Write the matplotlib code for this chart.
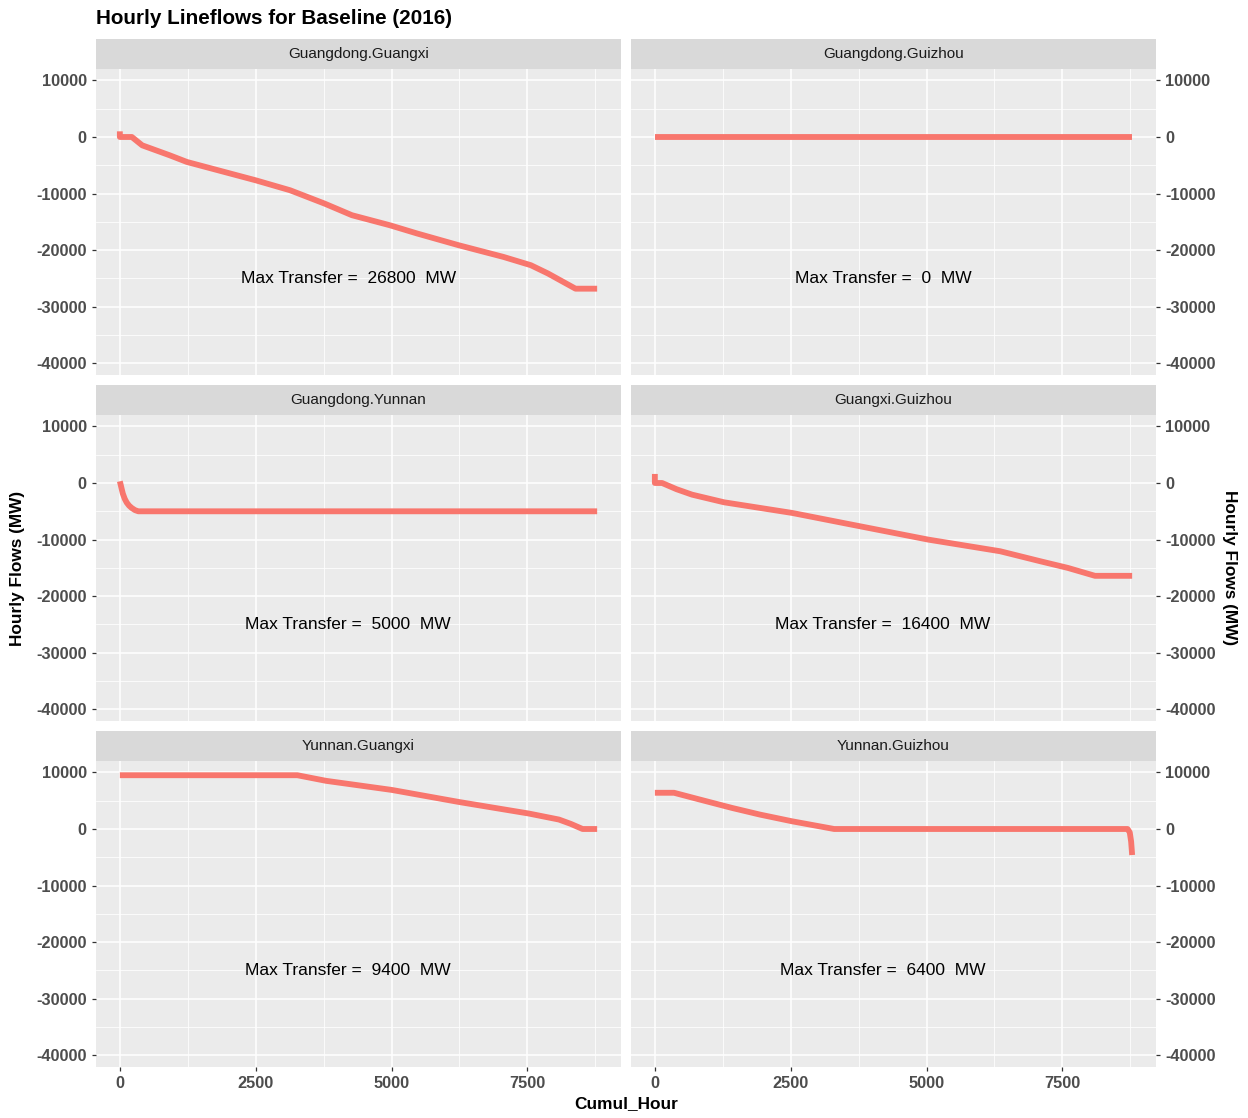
import matplotlib
matplotlib.use("Agg")
import matplotlib.pyplot as plt
from matplotlib.ticker import MultipleLocator

plt.rcParams['font.family'] = ['Liberation Sans', 'DejaVu Sans']
plt.rcParams['axes.unicode_minus'] = False

# ---------------- data ----------------
panels = ["Guangdong.Guangxi", "Guangdong.Guizhou", "Guangdong.Yunnan",
          "Guangxi.Guizhou", "Yunnan.Guangxi", "Yunnan.Guizhou"]
max_transfer = [26800, 0, 5000, 16400, 9400, 6400]

gd_gx_x = [0, 0, 221, 411, 918, 1234, 2500, 3133, 3766, 4272, 4968, 5475,
           6234, 7057, 7563, 7880, 8386, 8784]
gd_gx_y = [1000, 0, 0, -1470, -3235, -4410, -7650, -9410, -11760, -13820,
           -15590, -17060, -19120, -21180, -22650, -24120, -26800, -26800]

gd_gz_x = [0, 8784]
gd_gz_y = [0, 0]

gd_yn_x = [0, 30, 55, 90, 127, 170, 218, 280, 340, 8784]
gd_yn_y = [300, -900, -1880, -2800, -3470, -4000, -4410, -4800, -5000, -5000]

gx_gz_x = [0, 0, 133, 400, 685, 1274, 2526, 3778, 5030, 6355, 7091, 7600,
           8100, 8784]
gx_gz_y = [1600, 0, 0, -1100, -2060, -3410, -5290, -7650, -10000, -12060,
           -13820, -15000, -16400, -16400]

yn_gx_x = [0, 3267, 3795, 5006, 6248, 7522, 8081, 8300, 8516, 8784]
yn_gx_y = [9500, 9500, 8510, 6900, 4760, 2740, 1670, 900, 0, 0]

yn_gz_x = [0, 353, 832, 1421, 1937, 2526, 3300, 8700, 8740, 8765, 8784]
yn_gz_y = [6400, 6400, 5190, 3720, 2540, 1360, 0, 0, -600, -2200, -4600]

series_x = [gd_gx_x, gd_gz_x, gd_yn_x, gx_gz_x, yn_gx_x, yn_gz_x]
series_y = [gd_gx_y, gd_gz_y, gd_yn_y, gx_gz_y, yn_gx_y, yn_gz_y]

x_ticks = [0, 2500, 5000, 7500]
y_ticks = [-40000, -30000, -20000, -10000, 0, 10000]

# ---------------- layout ----------------
W, H = 1248, 1118
fig = plt.figure(figsize=(W / 100, H / 100), dpi=100)

col_left = [96, 631]
col_w = 525
row_strip_top = [39, 385, 731]
strip_h = 30
panel_h = 306

line_color = "#F8766D"
bg = "#EBEBEB"
strip_bg = "#D9D9D9"
tick_col = "#4D4D4D"
tick_size = 11.8

xlim = (-439, 9223)
ylim = (-42050, 12014)


def rect(x0, y0, w, h):
    return [x0 / W, 1 - (y0 + h) / H, w / W, h / H]


for i, name in enumerate(panels):
    r, c = divmod(i, 2)
    x0 = col_left[c]
    ys = row_strip_top[r]
    # strip
    sax = fig.add_axes(rect(x0, ys, col_w, strip_h))
    sax.set_facecolor(strip_bg)
    sax.set_xticks([]); sax.set_yticks([])
    for s in sax.spines.values():
        s.set_visible(False)
    sax.text(0.5, 0.5, name, ha="center", va="center", fontsize=11,
             color="#1A1A1A", transform=sax.transAxes)

    ax = fig.add_axes(rect(x0, ys + strip_h, col_w, panel_h))
    ax.set_facecolor(bg)
    for s in ax.spines.values():
        s.set_visible(False)
    ax.set_xlim(*xlim)
    ax.set_ylim(*ylim)
    ax.set_xticks(x_ticks)
    ax.set_yticks(y_ticks)
    ax.xaxis.set_minor_locator(MultipleLocator(1250))
    ax.yaxis.set_minor_locator(MultipleLocator(5000))
    ax.grid(which="major", color="white", linewidth=1.1)
    ax.grid(which="minor", color="white", linewidth=0.55)
    ax.set_axisbelow(True)
    ax.tick_params(which="minor", length=0)
    ax.tick_params(which="major", length=3.2, width=0.9, color="#333333",
                   labelcolor=tick_col, labelsize=tick_size, pad=3.5)
    if c == 1:
        ax.yaxis.tick_right()
        ax.tick_params(axis="y", which="major", length=3.2, width=0.9,
                       color="#333333", labelcolor=tick_col,
                       labelsize=tick_size, pad=3.5)
        ax.tick_params(axis="y", which="minor", length=0)
    if r < 2:
        ax.tick_params(axis="x", which="both", bottom=False, labelbottom=False)
    for lab in ax.get_xticklabels() + ax.get_yticklabels():
        lab.set_fontweight("bold")

    ax.plot(series_x[i], series_y[i], color=line_color, linewidth=4.2,
            solid_capstyle="butt", solid_joinstyle="round")
    ax.text(4200, -25000, f"Max Transfer =  {max_transfer[i]}  MW",
            ha="center", va="center", fontsize=12.5, color="black")

fig.text(96 / W, 1 - 18 / H, "Hourly Lineflows for Baseline (2016)",
         ha="left", va="center", fontsize=14.9, fontweight="bold", color="black")
fig.text(626 / W, 1 - 1104 / H, "Cumul_Hour", ha="center", va="center",
         fontsize=12.4, fontweight="bold", color="black")
fig.text(18 / W, 1 - 568 / H, "Hourly Flows (MW)", ha="center", va="center",
         rotation=90, fontsize=12.4, fontweight="bold", color="black")
fig.text(1229 / W, 1 - 568 / H, "Hourly Flows (MW)", ha="center", va="center",
         rotation=-90, fontsize=12.4, fontweight="bold", color="black")

fig.savefig("out.png", dpi=100, facecolor="white")
